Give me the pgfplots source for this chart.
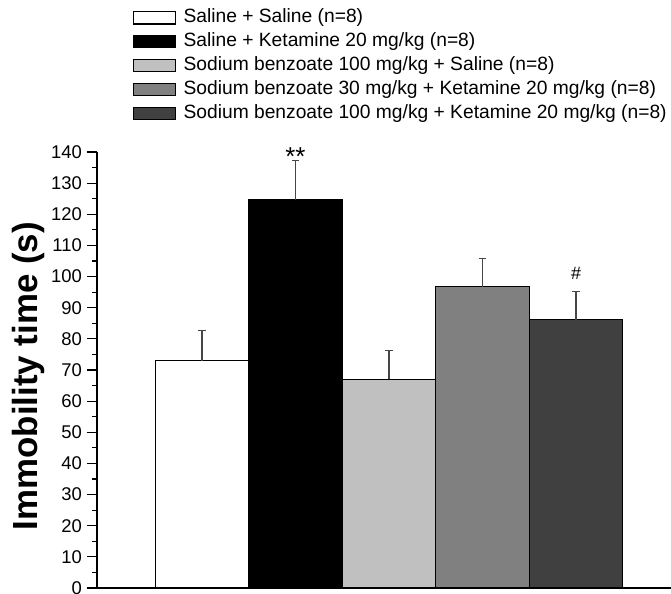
\documentclass[border=0pt]{standalone}
\usepackage{fontspec}
\setmainfont{Liberation Sans}
\usepackage{pgfplots}
\pgfplotsset{compat=1.18}
\definecolor{gA}{RGB}{192,192,192}
\definecolor{gB}{RGB}{128,128,128}
\definecolor{gC}{RGB}{64,64,64}
\definecolor{errc}{RGB}{70,70,70}
\pgfplotsset{
  mybar/.style={ybar, bar width=93.5bp, bar shift=0pt, fill=#1, draw=black, line width=1.3bp,
    legend image code/.code={\draw[##1, line width=1.1bp] (0bp,-6.2bp) rectangle (42bp,6.2bp);},
    error bars/.cd, y dir=plus, y explicit,
    error bar style={line width=1.2bp, errc},
    error mark options={rotate=90, mark size=3.7bp, line width=1.2bp, errc}},
}
\begin{document}
\begin{tikzpicture}
\begin{axis}[
  scale only axis, width=574bp, height=436bp,
  xmin=-1.123, xmax=5.016, ymin=0, ymax=140,
  axis x line*=bottom, axis y line*=left,
  axis line style={-, line width=1.5bp},
  xtick=\empty,
  ytick={0,10,...,140}, minor y tick num=1,
  tick align=outside, major tick length=9.5bp, minor tick length=5bp,
  tick style={line width=1.2bp, black},
  /pgf/number format/assume math mode=true,
  yticklabel style={font=\fontsize{18.5}{18.5}\selectfont, inner sep=0pt, xshift=-5.5bp},
  ylabel={\fontsize{35}{35}\selectfont\bfseries Immobility time (s)},
  ylabel style={at={(axis description cs:-0.1045,0.486)}, anchor=base},
  legend style={at={(axis description cs:0.0627,1.329)}, anchor=north west, draw=none, fill=none,
    font=\fontsize{19.3}{19.3}\selectfont, row sep=5.9bp, column sep=7.3bp, inner sep=0pt,
    nodes={inner sep=0pt, text height=14bp, text depth=4bp}},
  legend cell align=left,
  clip=false,
]
\coordinate (O) at (rel axis cs:0,0);
\addplot[mybar=white] coordinates {(0,73) +- (0,9.7)};
\addlegendentry{Saline + Saline (n=8)}
\addplot[mybar=black] coordinates {(1,124.7) +- (0,12.6)};
\addlegendentry{Saline + Ketamine 20 mg/kg (n=8)}
\addplot[mybar=gA] coordinates {(2,67.0) +- (0,9.3)};
\addlegendentry{Sodium benzoate 100 mg/kg + Saline (n=8)}
\addplot[mybar=gB] coordinates {(3,96.8) +- (0,9.1)};
\addlegendentry{Sodium benzoate 30 mg/kg + Ketamine 20 mg/kg (n=8)}
\addplot[mybar=gC] coordinates {(4,86.2) +- (0,9.1)};
\addlegendentry{Sodium benzoate 100 mg/kg + Ketamine 20 mg/kg (n=8)}
\node[anchor=base, font=\fontsize{26}{26}\selectfont, inner sep=0pt] at (axis cs:1,135.7) {**};
\node[anchor=base, font=\fontsize{18}{18}\selectfont, inner sep=0pt] at (axis cs:4,98.9) {\#};
\end{axis}
\pgfresetboundingbox
\path[use as bounding box] ([shift={(-97bp,-6bp)}]O) rectangle ++(671bp,594bp);
\end{tikzpicture}
\end{document}
